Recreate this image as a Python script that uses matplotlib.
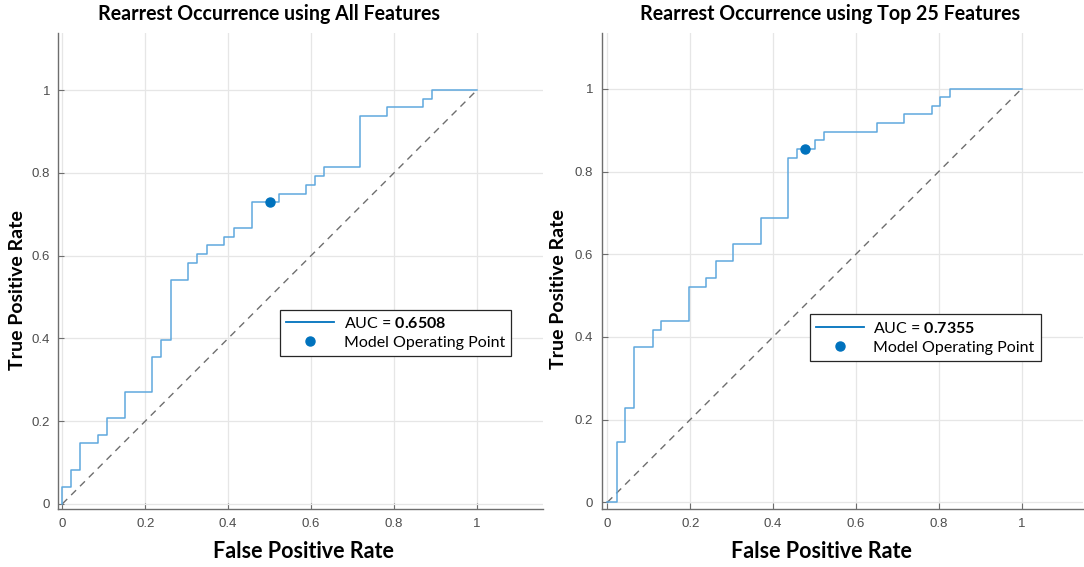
import matplotlib
matplotlib.use("Agg")
import matplotlib.pyplot as plt
from matplotlib.lines import Line2D

plt.rcParams['mathtext.fontset'] = 'custom'
plt.rcParams['mathtext.bf'] = 'Lato:bold'
plt.rcParams['mathtext.rm'] = 'Lato'

# ROC vertices (left: all features)
fpr_all = [0, 0, 0.022, 0.022, 0.043, 0.043, 0.087, 0.087, 0.109, 0.109, 0.152, 0.152,
           0.217, 0.217, 0.239, 0.239, 0.261, 0.261, 0.304, 0.304, 0.326, 0.326, 0.348, 0.348,
           0.391, 0.391, 0.413, 0.413, 0.457, 0.457, 0.522, 0.522, 0.587, 0.587, 0.609, 0.609,
           0.630, 0.630, 0.717, 0.717, 0.783, 0.783, 0.870, 0.870, 0.891, 0.891, 1.0]
tpr_all = [0, 0.042, 0.042, 0.083, 0.083, 0.146, 0.146, 0.167, 0.167, 0.208, 0.208, 0.271,
           0.271, 0.354, 0.354, 0.396, 0.396, 0.542, 0.542, 0.583, 0.583, 0.604, 0.604, 0.625,
           0.625, 0.646, 0.646, 0.667, 0.667, 0.729, 0.729, 0.750, 0.750, 0.771, 0.771, 0.792,
           0.792, 0.813, 0.813, 0.938, 0.938, 0.958, 0.958, 0.979, 0.979, 1.0, 1.0]
op_all = (0.5, 0.729)
auc_all = "0.6508"

# right: top 25 features
fpr_top = [0, 0.022, 0.022, 0.043, 0.043, 0.065, 0.065, 0.109, 0.109, 0.130, 0.130, 0.196,
           0.196, 0.239, 0.239, 0.261, 0.261, 0.304, 0.304, 0.370, 0.370, 0.435, 0.435, 0.457,
           0.457, 0.500, 0.500, 0.522, 0.522, 0.652, 0.652, 0.717, 0.717, 0.783, 0.783, 0.804,
           0.804, 0.826, 0.826, 1.0]
tpr_top = [0, 0, 0.146, 0.146, 0.229, 0.229, 0.375, 0.375, 0.417, 0.417, 0.438, 0.438,
           0.521, 0.521, 0.542, 0.542, 0.583, 0.583, 0.625, 0.625, 0.688, 0.688, 0.833, 0.833,
           0.854, 0.854, 0.875, 0.875, 0.896, 0.896, 0.917, 0.917, 0.938, 0.938, 0.958, 0.958,
           0.979, 0.979, 1.0, 1.0]
op_top = (0.478, 0.854)
auc_top = "0.7355"

titles = ["Rearrest Occurrence using All Features", "Rearrest Occurrence using Top 25 Features"]
ticks = [0, 0.2, 0.4, 0.6, 0.8, 1]
tick_labels = ["0", "0.2", "0.4", "0.6", "0.8", "1"]

fig = plt.figure(figsize=(10.84, 5.67), dpi=100)
ax1 = fig.add_axes([0.0538, 0.1018, 0.4474, 0.840])
ax2 = fig.add_axes([0.555, 0.1018, 0.444, 0.840])

panels = [
    (ax1, fpr_all, tpr_all, op_all, auc_all, (-0.0096, 1.16), (-0.013, 1.138), (0.457, 0.37)),
    (ax2, fpr_top, tpr_top, op_top, auc_top, (-0.014, 1.148), (-0.017, 1.135), (0.432, 0.36)),
]

for ax, fx, ty, op, auc, xl, yl, legpos in panels:
    ax.plot(fx, ty, color="#5fa8de", lw=1.1, zorder=3)
    ax.plot([0, 1], [0, 1], color="#6e6e6e", lw=1.0, ls=(0, (5, 4)), zorder=2)
    ax.plot(op[0], op[1], "o", color="#0072BD", ms=6.5, zorder=4)
    ax.set_xlim(*xl)
    ax.set_ylim(*yl)
    ax.set_xticks(ticks)
    ax.set_xticklabels(tick_labels)
    ax.set_yticks(ticks)
    ax.set_yticklabels(tick_labels)
    ax.grid(True, color="#e6e6e6", lw=0.9)
    ax.set_axisbelow(True)
    for s in ["top", "right"]:
        ax.spines[s].set_visible(False)
    for s in ["left", "bottom"]:
        ax.spines[s].set_color("#6e6e6e")
        ax.spines[s].set_linewidth(1.0)
    ax.tick_params(direction="in", length=4, color="#6e6e6e", labelcolor="#4d4d4d",
                   labelsize=9.5, pad=6)
    for lab in ax.get_xticklabels() + ax.get_yticklabels():
        lab.set_fontfamily("Liberation Sans")
    handles = [Line2D([], [], color="#0072BD", lw=1.3),
               Line2D([], [], ls="", marker="o", color="#0072BD", ms=6.5)]
    leg = ax.legend(handles, ["AUC = $\\mathbf{" + auc + "}$", "Model Operating Point"],
                    loc="center left", bbox_to_anchor=legpos, frameon=True, fancybox=False,
                    edgecolor="#262626", framealpha=1, borderpad=0.4, handlelength=3.0,
                    handletextpad=0.6, labelspacing=0.3, borderaxespad=0,
                    prop={"family": "Lato", "size": 11.5})
    leg.get_frame().set_linewidth(0.9)

fig.text(0.248, 0.975, titles[0], ha="center", va="center", family="Lato",
         weight="bold", size=14.1)
fig.text(0.766, 0.975, titles[1], ha="center", va="center", family="Lato",
         weight="bold", size=14.1)
fig.text(0.2795, 0.028, "False Positive Rate", ha="center", va="center", family="Lato",
         weight="bold", size=15.5)
fig.text(0.758, 0.028, "False Positive Rate", ha="center", va="center", family="Lato",
         weight="bold", size=15.5)
fig.text(0.016, 0.488, "True Positive Rate", ha="center", va="center", rotation=90,
         family="Lato", weight="bold", size=14)
fig.text(0.515, 0.49, "True Positive Rate", ha="center", va="center", rotation=90,
         family="Lato", weight="bold", size=14)

fig.savefig("out.png", dpi=100)
